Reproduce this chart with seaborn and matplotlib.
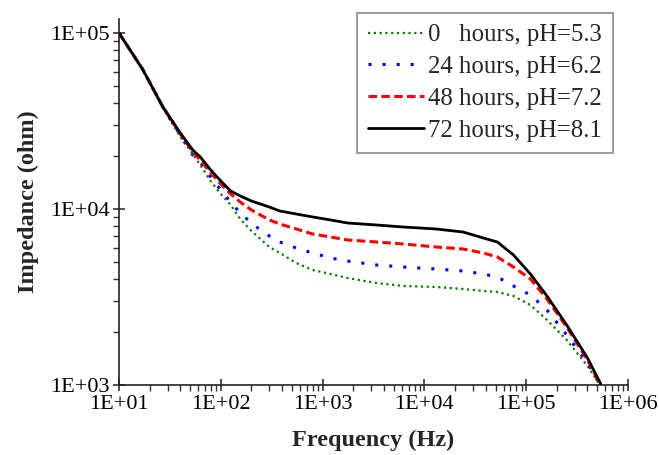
import numpy as np
import pandas as pd
import matplotlib
matplotlib.use("Agg")
import matplotlib.pyplot as plt
import matplotlib.ticker as mticker
import seaborn as sns

# ---- data ----
freq = [10, 17, 27, 40, 53, 63, 78, 100, 125, 155, 200, 245, 300, 380, 550, 800,
        1200, 1750, 3400, 6200, 13000, 24000, 38000, 52000, 75000, 110000, 160000,
        250000, 400000, 540000]

z_0h = [100000, 61640, 37490, 25660, 20540, 17780, 14610, 12170, 10540, 8774, 7499,
        6752, 6083, 5623, 4934, 4502, 4272, 4055, 3797, 3652, 3604, 3512, 3420, 3376,
        3204, 2848, 2341, 1802, 1282, 987]
z_24h = [100000, 62440, 37970, 26330, 20270, 18490, 15400, 12820, 10960, 9490, 8330,
         7600, 7024, 6494, 6003, 5623, 5268, 5063, 4806, 4682, 4561, 4443, 4272, 4108,
         3652, 3246, 2668, 1924, 1334, 987]
z_48h = [100000, 62440, 37970, 26680, 21080, 18980, 16230, 13870, 12170, 10960, 9870,
         9250, 8660, 8218, 7700, 7210, 6930, 6670, 6494, 6326, 6083, 5926, 5623, 5337,
         4682, 4003, 3081, 2135, 1387, 987]
z_72h = [100000, 62440, 37970, 27030, 21640, 19750, 16880, 14420, 12660, 11860, 11100,
         10670, 10260, 9741, 9367, 9010, 8660, 8330, 8110, 7900, 7700, 7400, 6840, 6494,
         5478, 4272, 3204, 2192, 1424, 1013]

labels = ["0   hours, pH=5.3", "24 hours, pH=6.2", "48 hours, pH=7.2", "72 hours, pH=8.1"]
x_ticks = [1e1, 1e2, 1e3, 1e4, 1e5, 1e6]
y_ticks = [1e3, 1e4, 1e5]

# ---- style ----
sns.set_style("ticks")
plt.rcParams["font.family"] = ["Liberation Serif", "DejaVu Serif"]

fig = plt.figure(figsize=(6.59, 4.55), dpi=100)
ax = fig.add_axes([119 / 659, 1 - 385 / 455, (628 - 119) / 659, (385 - 19) / 455])

styles = [
    dict(color="#008000", linewidth=1.6, dashes=(1, 1.6)),
    dict(color="#0000ff", linewidth=2.2, dashes=(1, 3.6)),
    dict(color="#ff0000", linewidth=2.2, dashes=(2.8, 1.4)),
    dict(color="#000000", linewidth=2.0),
]
series = [z_0h, z_24h, z_48h, z_72h]

for z, lab, st in zip(series, labels, styles):
    df = pd.DataFrame({"f": freq, "z": z})
    st = dict(st)
    d = st.pop("dashes", None)
    sns.lineplot(data=df, x="f", y="z", ax=ax, label=lab, estimator=None,
                 sort=False, **st)
    if d is not None:
        ax.lines[-1].set_dashes(d)

ax.set_xscale("log")
ax.set_yscale("log")
ax.set_xlim(1e1, 1e6)
ax.set_ylim(1e3, 10 ** (5 + 14 / 176))

fmt = mticker.FuncFormatter(lambda v, p: "1E+%02d" % int(round(np.log10(v))))
ax.xaxis.set_major_locator(mticker.FixedLocator(x_ticks))
ax.yaxis.set_major_locator(mticker.FixedLocator(y_ticks))
ax.xaxis.set_major_formatter(fmt)
ax.yaxis.set_major_formatter(fmt)
ax.xaxis.set_minor_locator(mticker.LogLocator(base=10, subs=np.arange(2, 10), numticks=20))
ax.yaxis.set_minor_locator(mticker.LogLocator(base=10, subs=np.arange(2, 10), numticks=20))
ax.xaxis.set_minor_formatter(mticker.NullFormatter())
ax.yaxis.set_minor_formatter(mticker.NullFormatter())

ax.tick_params(which="major", direction="inout", length=9, width=1.1, colors="#222222",
               labelsize=16, labelcolor="black")
ax.tick_params(which="minor", direction="out", length=4, width=1.0, colors="#333333")
ax.tick_params(axis="x", which="major", pad=3)
ax.tick_params(axis="y", which="major", pad=2)

for s in ["top", "right"]:
    ax.spines[s].set_visible(False)
for s in ["left", "bottom"]:
    ax.spines[s].set_linewidth(1.2)
    ax.spines[s].set_color("#222222")

ax.set_xlabel("Frequency (Hz)", fontsize=17.5, fontweight="bold", labelpad=11)
ax.set_ylabel("Impedance (ohm)", fontsize=17.5, fontweight="bold", labelpad=8)

leg = ax.legend(loc="upper right", bbox_to_anchor=(613 / 659, 1 - 13 / 455),
                bbox_transform=fig.transFigure, fontsize=17.8, frameon=True,
                fancybox=False, edgecolor="#808080", handlelength=2.27,
                handletextpad=0.16, labelspacing=0.38, borderpad=0.45,
                borderaxespad=0)
leg.get_frame().set_linewidth(1.4)

fig.savefig("out.png", dpi=100)
